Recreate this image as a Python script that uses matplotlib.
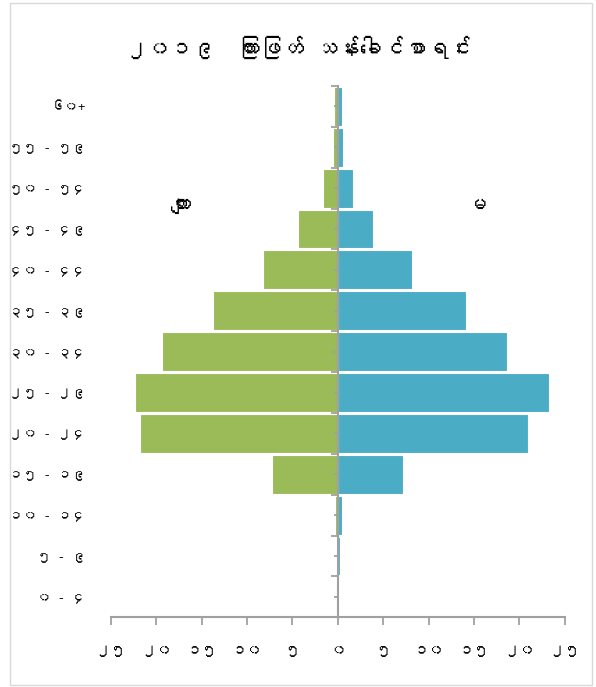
import matplotlib
matplotlib.use("Agg")
import matplotlib.pyplot as plt
from matplotlib import font_manager
from matplotlib.ft2font import FT2Font
from matplotlib.patches import Rectangle
import numpy as np

# ---------------- data ----------------
age_groups = ["၀ - ၄", "၅ - ၉", "၁၀ - ၁၄", "၁၅ - ၁၉", "၂၀ - ၂၄", "၂၅ - ၂၉",
              "၃၀ - ၃၄", "၃၅ - ၃၉", "၄၀ - ၄၄", "၄၅ - ၄၉", "၅၀ - ၅၄",
              "၅၅ - ၅၉", "၆၀+"]
male = [0.0, 0.0, 0.35, 7.25, 21.8, 22.3, 19.3, 13.75, 8.2, 4.35, 1.67, 0.57, 0.39]
female = [0.0, 0.28, 0.46, 7.2, 21.0, 23.3, 18.7, 14.15, 8.2, 3.88, 1.67, 0.53, 0.42]
x_ticks = [-25, -20, -15, -10, -5, 0, 5, 10, 15, 20, 25]
x_tick_labels = ["၂၅", "၂၀", "၁၅", "၁၀", "၅", "၀", "၅", "၁၀", "၁၅", "၂၀", "၂၅"]
title = "၂၀၁၉  ကြားဖြတ် သန်းခေါင်စာရင်း"
male_label = "ကျား"
female_label = "မ"

# ---------------- fonts ----------------
families = []
for fe in font_manager.fontManager.ttflist:
    try:
        cmap = FT2Font(fe.fname).get_charmap()
        if 0x1000 in cmap and 0x1041 in cmap:
            if fe.name not in families:
                families.append(fe.name)
    except Exception:
        pass
plt.rcParams["font.family"] = families[:1] + ["DejaVu Sans"]

GREEN = "#9BBB59"
BLUE = "#4BACC6"
AXIS = "#A0A0A0"

fig = plt.figure(figsize=(5.96, 6.87), dpi=100)
ax = fig.add_axes([110.7 / 596, (687 - 617.3) / 687, 454.0 / 596, (617.3 - 86) / 687])

y = np.arange(len(age_groups))
ax.barh(y, -np.array(male), height=0.95, color=GREEN, edgecolor="white", linewidth=0.8)
ax.barh(y, female, height=0.95, color=BLUE, edgecolor="white", linewidth=0.8)

ax.set_xlim(-25, 25)
ax.set_ylim(-0.5, len(age_groups) - 0.5)

for s in ["top", "right"]:
    ax.spines[s].set_visible(False)
ax.spines["left"].set_position(("data", 0))
ax.spines["left"].set_color(AXIS)
ax.spines["left"].set_linewidth(1.5)
ax.spines["bottom"].set_color(AXIS)
ax.spines["bottom"].set_linewidth(1.5)

# y ticks on the zero axis (boundaries major, centres minor), no labels
ax.set_yticks(np.arange(-0.5, len(age_groups), 1.0))
ax.set_yticks(y, minor=True)
ax.tick_params(axis="y", which="major", length=5, width=1.3, color=AXIS, labelleft=False)
ax.tick_params(axis="y", which="minor", length=3, width=1.3, color=AXIS, labelleft=False)

# category labels on the left
sec = ax.secondary_yaxis(0.0)
sec.set_yticks(y, labels=age_groups)
sec.spines["left"].set_visible(False)
sec.tick_params(axis="y", length=0, pad=18, labelsize=10, labelcolor="#000000")

# x ticks
ax.set_xticks(x_ticks, labels=x_tick_labels)
ax.tick_params(axis="x", length=5.5, width=1.3, color=AXIS, pad=14, labelsize=11)

ax.text(-17.3, 9.6, male_label, ha="center", va="center", fontsize=15, fontweight="bold")
ax.text(15.3, 9.6, female_label, ha="center", va="center", fontsize=15, fontweight="bold")

fig.text(0.5, 1 - 47 / 687, title, ha="center", va="center", fontsize=16)

fig.patches.append(Rectangle((9.5 / 596, 2 / 687), 582 / 596, 682 / 687,
                             transform=fig.transFigure, fill=False,
                             edgecolor="#D9D9D9", linewidth=1))

fig.savefig("out.png", dpi=100)
